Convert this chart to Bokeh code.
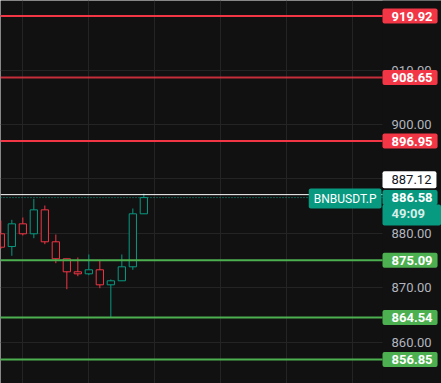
from bokeh.plotting import figure
from bokeh.models import (Label, FixedTicker, PrintfTickFormatter, Range1d,
                          ColumnDataSource, LinearAxis)
from bokeh.embed import file_html
from bokeh.resources import INLINE

# ---- data ----
bar_index = list(range(14))
opens  = [879.93, 877.59, 881.76, 879.93, 884.33, 878.46, 875.34, 872.95, 872.58, 873.32, 870.56, 871.30, 873.87, 883.60]
highs  = [882.37, 882.49, 882.92, 886.35, 885.12, 879.80, 875.34, 875.58, 876.13, 875.02, 871.54, 876.13, 884.57, 887.30]
lows   = [877.17, 875.89, 879.62, 879.12, 878.02, 874.53, 869.75, 872.14, 872.33, 869.94, 864.54, 871.30, 873.32, 883.60]
closes = [877.47, 881.76, 879.93, 884.33, 878.46, 875.34, 872.95, 872.58, 873.32, 870.56, 871.30, 873.87, 883.60, 886.58]

resistance_levels = [919.92, 908.65, 896.95]
support_levels = [875.09, 864.54, 856.85]
last_price = 886.58
session_high = 887.12
symbol = "BNBUSDT.P"
countdown = "49:09"
price_ticks = [860, 870, 880, 890, 900, 910, 920]
time_grid = [2, 8, 14, 20, 26, 32]

# ---- style / layout ----
BG = "#111111"
GRID = "#242424"
TEAL = "#089981"
RED = "#f23645"
GREEN = "#4caf50"
FONT = "Roboto"
X_START = -0.03        # left edge of the view (bar units)
PANE_END = 34.7        # where the price scale begins (bar units)
X_END = 40.06          # right edge of the canvas (bar units)
Y_LOW, Y_HIGH = 852.44, 922.77

p = figure(width=441, height=383, output_backend="svg", toolbar_location=None,
           x_range=Range1d(X_START, X_END), y_range=Range1d(Y_LOW, Y_HIGH),
           x_axis_location=None, y_axis_location=None,
           min_border_left=0, min_border_right=0, min_border_top=0, min_border_bottom=0,
           background_fill_color=BG, border_fill_color=BG, outline_line_color=None)

p.ygrid.ticker = FixedTicker(ticks=price_ticks)
p.ygrid.grid_line_color = GRID
p.xgrid.ticker = FixedTicker(ticks=time_grid)
p.xgrid.grid_line_color = GRID

# price-scale area background (hides the grid behind the scale)
p.quad(left=[PANE_END], right=[X_END], bottom=[Y_LOW], top=[Y_HIGH],
       fill_color=BG, line_color=None)

ax = LinearAxis(fixed_location=PANE_END, ticker=FixedTicker(ticks=price_ticks),
                formatter=PrintfTickFormatter(format="%.2f"))
ax.major_tick_line_color = None
ax.minor_tick_line_color = None
ax.major_tick_in = 0
ax.major_tick_out = 0
ax.minor_tick_in = 0
ax.minor_tick_out = 0
ax.axis_line_color = None
ax.major_label_text_color = "#b2b5be"
ax.major_label_text_font = FONT
ax.major_label_text_font_size = "13px"
ax.major_label_standoff = 9
p.add_layout(ax, "right")

colors = [TEAL if c >= o else RED for o, c in zip(opens, closes)]
src = ColumnDataSource(dict(
    x=bar_index, high=highs, low=lows,
    top=[max(o, c) for o, c in zip(opens, closes)],
    bottom=[min(o, c) for o, c in zip(opens, closes)],
    color=colors))

p.segment(x0="x", y0="high", x1="x", y1="low", line_color="color", line_width=1, source=src)
p.vbar(x="x", width=0.66, top="top", bottom="bottom", fill_color=BG,
       line_color="color", line_width=1, source=src)

lv_src = ColumnDataSource(dict(
    y=resistance_levels + support_levels,
    color=[RED] * len(resistance_levels) + [GREEN] * len(support_levels),
    alpha=[1.0, 0.8, 1.0] + [1.0] * len(support_levels)))
p.segment(x0=X_START, x1=PANE_END, y0="y", y1="y", line_color="color", line_alpha="alpha",
          line_width=2, source=lv_src)

p.segment(x0=X_START, x1=PANE_END, y0=[session_high], y1=[session_high],
          line_color="#ffffff", line_width=1)
p.segment(x0=X_START, x1=PANE_END, y0=[last_price], y1=[last_price],
          line_color=TEAL, line_width=1, line_dash="1 2")


def tag(y, text, bg, color, y_offset=0, bold=True, pad=(9, 5, 3, 3)):
    l, r, t, b = pad
    p.add_layout(Label(x=382, y=y, x_units="screen", y_units="data", text=text,
                       text_align="left", text_baseline="middle", text_font=FONT,
                       text_font_size="13px", text_font_style="bold" if bold else "normal",
                       text_color=color, background_fill_color=bg,
                       padding=dict(left=l, right=r, top=t, bottom=b), border_radius=2,
                       y_offset=y_offset, level="overlay"))


for lv in resistance_levels:
    tag(lv, f"{lv:.2f}", RED, "#ffffff")
for lv in support_levels:
    tag(lv, f"{lv:.2f}", GREEN, "#ffffff")

tag(session_high, f"{session_high:.2f}", "#ffffff", "#131722", y_offset=15, bold=False,
    pad=(9, 5, 4, 4))
tag(last_price, countdown, TEAL, "#d6eee8", y_offset=-17.5, pad=(9, 16, 1, 5))
tag(last_price, f"{last_price:.2f}", TEAL, "#ffffff", y_offset=0, pad=(9, 5, 3, 3))

p.add_layout(Label(x=381, y=last_price, x_units="screen", y_units="data", text=symbol,
                   text_align="right", text_baseline="middle", text_font=FONT,
                   text_font_size="12px", text_color="#ffffff", background_fill_color=TEAL,
                   padding=dict(left=5, right=5, top=3, bottom=3), border_radius=2,
                   y_offset=-1, level="overlay"))

open("out.html", "w").write(file_html(p, INLINE))
